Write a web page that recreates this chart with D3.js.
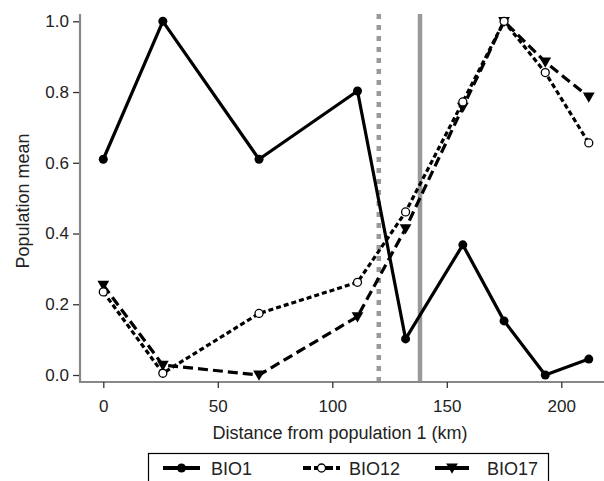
<!DOCTYPE html>
<html>
<head>
<meta charset="utf-8">
<title>Population mean vs distance</title>
<script src="https://d3js.org/d3.v7.min.js"></script>
<style>
    body { margin: 0; background: #fff; }
    svg text { font-family: "Liberation Sans", Arial, sans-serif; fill: #222; }
    .tick line { stroke: #333; stroke-width: 1.3px; }
</style>
</head>
<body>
<svg id="chart"></svg>
<script>
    // Data
    const distance = [0, 26, 68, 111, 132, 157, 175, 193, 212];
    const bio1  = [0.61, 1.0, 0.61, 0.803, 0.102, 0.368, 0.153, 0.0, 0.045];
    const bio12 = [0.235, 0.005, 0.174, 0.262, 0.461, 0.772, 1.0, 0.855, 0.656];
    const bio17 = [0.254, 0.028, 0.0, 0.165, 0.414, 0.757, 1.0, 0.885, 0.786];
    const seriesNames = ["BIO1", "BIO12", "BIO17"];
    const xTicks = [0, 50, 100, 150, 200];
    const yTicks = [0, 0.2, 0.4, 0.6, 0.8, 1.0];
    const dottedLine = 120.3;   // dotted grey reference
    const solidLine = 138.3;    // solid grey reference

    var width = 604, height = 481;

    var svg = d3.select("#chart")
        .attr("width", width)
        .attr("height", height);

    var x = d3.scaleLinear().domain([0, 200]).range([103.3, 561.3]);
    var y = d3.scaleLinear().domain([0, 1]).range([375, 21.3]);

    // grey vertical reference lines
    svg.append("line")
        .attr("x1", x(dottedLine)).attr("x2", x(dottedLine))
        .attr("y1", 14).attr("y2", 381)
        .attr("stroke", "#999").attr("stroke-width", 4.5)
        .attr("stroke-dasharray", "5,6");
    svg.append("line")
        .attr("x1", x(solidLine)).attr("x2", x(solidLine))
        .attr("y1", 14).attr("y2", 381)
        .attr("stroke", "#999").attr("stroke-width", 4.5);

    // axes (L shaped frame in grey)
    svg.append("line")
        .attr("x1", 80).attr("x2", 80).attr("y1", 14).attr("y2", 382)
        .attr("stroke", "#888").attr("stroke-width", 2.2);
    svg.append("line")
        .attr("x1", 79).attr("x2", 604).attr("y1", 382).attr("y2", 382)
        .attr("stroke", "#888").attr("stroke-width", 2.2);

    var xAxis = svg.append("g")
        .attr("transform", "translate(0,382)")
        .call(d3.axisBottom(x).tickValues(xTicks).tickSize(6).tickPadding(12)
            .tickFormat(d3.format("d")));
    xAxis.select(".domain").remove();
    xAxis.selectAll("text").style("font-size", "17px");

    var yAxis = svg.append("g")
        .attr("transform", "translate(79,0)")
        .call(d3.axisLeft(y).tickValues(yTicks).tickSize(6).tickPadding(4)
            .tickFormat(d3.format(".1f")));
    yAxis.select(".domain").remove();
    yAxis.selectAll("text").style("font-size", "17px");

    // axis titles
    svg.append("text")
        .attr("x", 340).attr("y", 439)
        .attr("text-anchor", "middle")
        .style("font-size", "18px")
        .text("Distance from population 1 (km)");
    svg.append("text")
        .attr("transform", "translate(29,201) rotate(-90)")
        .attr("text-anchor", "middle")
        .style("font-size", "18px")
        .text("Population mean");

    var line = d3.line()
        .x(function(d, i) { return x(distance[i]); })
        .y(function(d) { return y(d); });

    var styles = [
        { values: bio1, dash: null, marker: "dot" },
        { values: bio12, dash: "5,3", marker: "open" },
        { values: bio17, dash: "10,5", marker: "tri" }
    ];

    var tri = d3.symbol().type(d3.symbolTriangle).size(60);

    function drawMarker(g, kind, cx, cy) {
        if (kind === "dot") {
            g.append("circle").attr("cx", cx).attr("cy", cy).attr("r", 4.5)
                .attr("fill", "#000");
        } else if (kind === "open") {
            g.append("circle").attr("cx", cx).attr("cy", cy).attr("r", 4)
                .attr("fill", "#fff").attr("stroke", "#000").attr("stroke-width", 1.3);
        } else {
            g.append("path").attr("d", tri)
                .attr("transform", "translate(" + cx + "," + (cy - 1) + ") rotate(180)")
                .attr("fill", "#000");
        }
    }

    // draw in reverse so BIO1 sits on top
    styles.slice().reverse().forEach(function(s) {
        svg.append("path")
            .datum(s.values)
            .attr("d", line)
            .attr("fill", "none")
            .attr("stroke", "#000")
            .attr("stroke-width", 3.2)
            .attr("stroke-linejoin", "round")
            .attr("stroke-dasharray", s.dash);
        var g = svg.append("g");
        s.values.forEach(function(v, i) {
            drawMarker(g, s.marker, x(distance[i]), y(v));
        });
    });

    // legend
    var legend = svg.append("g");
    legend.append("rect")
        .attr("x", 148.5).attr("y", 453.5)
        .attr("width", 400).attr("height", 60)
        .attr("fill", "#fff").attr("stroke", "#000").attr("stroke-width", 1.2);

    var legendX = [[163, 200, 211], [303, 340, 349], [435, 469, 487]];
    seriesNames.forEach(function(name, i) {
        var p = legendX[i];
        var cy = 468;
        legend.append("line")
            .attr("x1", p[0]).attr("x2", p[1]).attr("y1", cy).attr("y2", cy)
            .attr("stroke", "#000").attr("stroke-width", 4)
            .attr("stroke-dasharray", i === 1 ? "8,3" : null);
        drawMarker(legend, styles[i].marker, (p[0] + p[1]) / 2, cy);
        legend.append("text")
            .attr("x", p[2]).attr("y", cy + 6.5)
            .style("font-size", "18px")
            .text(name);
    });
</script>
</body>
</html>
